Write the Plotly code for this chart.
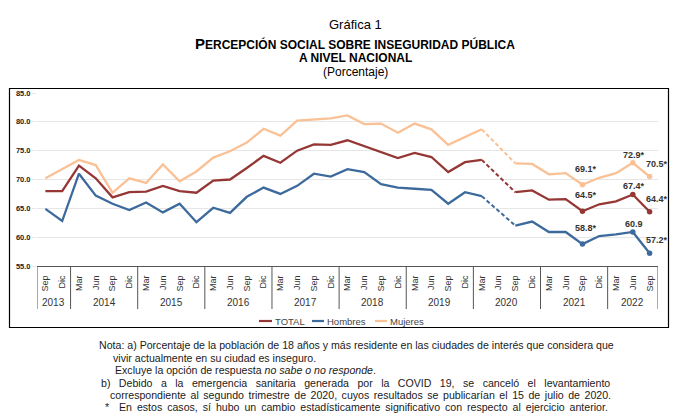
import plotly.graph_objects as go

# ---------------- data ----------------
months = ["Sep", "Dic",
          "Mar", "Jun", "Sep", "Dic",
          "Mar", "Jun", "Sep", "Dic",
          "Mar", "Jun", "Sep", "Dic",
          "Mar", "Jun", "Sep", "Dic",
          "Mar", "Jun", "Sep", "Dic",
          "Mar", "Jun", "Sep", "Dic",
          "Mar", "Jun", "Sep", "Dic",
          "Mar", "Jun", "Sep", "Dic",
          "Mar", "Jun", "Sep"]
years = ["2013", "2014", "2015", "2016", "2017", "2018", "2019", "2020", "2021", "2022"]
year_counts = [2, 4, 4, 4, 4, 4, 4, 4, 4, 3]

total = [68.0, 68.0, 72.4, 70.2, 66.9, 67.8, 67.9, 68.9, 68.0, 67.7, 69.8, 70.0,
         72.0, 74.1, 72.9, 75.0, 76.1, 76.0, 76.8, 75.8, 74.8, 73.7, 74.6, 73.9,
         71.3, 73.0, 73.4, None, 67.8, 68.1, 66.5, 66.6, 64.5, 65.7, 66.2, 67.4, 64.4]
hombres = [64.9, 62.8, 71.0, 67.2, 65.8, 64.7, 66.0, 64.3, 65.8, 62.6, 65.1, 64.2,
           67.0, 68.6, 67.5, 68.9, 71.0, 70.5, 71.8, 71.3, 69.2, 68.6, 68.4, 68.2,
           65.8, 67.8, 67.1, None, 62.0, 62.7, 60.9, 60.9, 58.8, 60.2, 60.5, 60.9, 57.2]
mujeres = [70.2, 71.8, 73.4, 72.5, 67.7, 70.2, 69.4, 72.6, 69.7, 71.4, 73.8, 74.9,
           76.4, 78.8, 77.6, 80.2, 80.4, 80.6, 81.1, 79.6, 79.7, 78.1, 79.7, 78.7,
           76.0, 77.4, 78.7, None, 72.8, 72.7, 70.9, 71.1, 69.1, 70.3, 71.1, 72.9, 70.5]

series_names = ["TOTAL", "Hombres", "Mujeres"]
label_idx = [32, 35, 36]
significant = {"TOTAL": [True, True, True],
               "Hombres": [True, False, True],
               "Mujeres": [True, True, True]}

# ---------------- layout constants ----------------
W_FIG, H_FIG = 681, 418
L, R, T, B = 37, 23, 93, 152
PW = W_FIG - L - R
PH = H_FIG - T - B
BOTTOM = H_FIG - B


def px(x):
    return (x - L) / PW


def py(y):
    return (BOTTOM - y) / PH


colors = {"TOTAL": "#953735", "Hombres": "#3D6A9C", "Mujeres": "#F9C195"}
data = {"TOTAL": total, "Hombres": hombres, "Mujeres": mujeres}
xs = list(range(len(months)))
gap = 27  # Jun 2020 not surveyed

fig = go.Figure()
for name in series_names:
    vals = data[name]
    c = colors[name]
    fig.add_trace(go.Scatter(x=xs, y=vals, mode="lines", connectgaps=False,
                             line=dict(color=c, width=2.3), showlegend=False,
                             hoverinfo="skip"))
    fig.add_trace(go.Scatter(x=[gap - 1, gap + 1], y=[vals[gap - 1], vals[gap + 1]],
                             mode="lines", line=dict(color=c, width=2.0, dash="4px,2.5px"),
                             showlegend=False, hoverinfo="skip"))
    fig.add_trace(go.Scatter(x=label_idx, y=[vals[i] for i in label_idx], mode="markers",
                             marker=dict(color=c, size=5.5), showlegend=False,
                             hoverinfo="skip"))

annotations = []
shifts = {32: (4, 16), 35: (1, 8), 36: (7, 13)}
for name in series_names:
    vals = data[name]
    for k, i in enumerate(label_idx):
        txt = f"{vals[i]:.1f}" + ("*" if significant[name][k] else "")
        dx, dy = shifts[i]
        annotations.append(dict(x=i, y=vals[i], xref="x", yref="y", text=txt,
                                showarrow=False, xshift=dx, yshift=dy,
                                font=dict(family="Liberation Sans", size=9,
                                          color="#333333", weight="bold")))

# year labels
start = 0
for yr, n in zip(years, year_counts):
    annotations.append(dict(x=start + (n - 1) / 2, y=py(302), xref="x", yref="paper",
                            text=yr, showarrow=False, yanchor="middle",
                            font=dict(family="Liberation Sans Narrow, Liberation Sans",
                                      size=10, color="#333333")))
    start += n

shapes = []
# year separators
bounds = [-0.5]
acc = 0
for n in year_counts:
    acc += n
    bounds.append(acc - 0.5)
for bx in bounds:
    shapes.append(dict(type="line", xref="x", yref="paper", x0=bx, x1=bx,
                       y0=py(309), y1=0, line=dict(color="#555555", width=1)))

# outer frame
shapes.append(dict(type="rect", xref="paper", yref="paper", x0=px(9.5), x1=px(668.5),
                   y0=py(327.5), y1=py(88.5), line=dict(color="#000000", width=1.2)))

# legend (manual)
leg_items = [("TOTAL", 259, 272, 273), ("Hombres", 312, 324, 325), ("Mujeres", 375, 387, 388)]
for name, x0, x1, xt in leg_items:
    shapes.append(dict(type="line", xref="paper", yref="paper", x0=px(x0), x1=px(x1),
                       y0=py(321), y1=py(321), line=dict(color=colors[name], width=2.2)))
    annotations.append(dict(x=px(xt), y=py(321), xref="paper", yref="paper", text=name,
                            showarrow=False, xanchor="left", yanchor="middle",
                            font=dict(family="Liberation Sans", size=9.5, color="#444444")))

# titles
title_font = "Liberation Sans"
annotations += [
    dict(x=px(355), y=py(15), xref="paper", yref="paper", text="Gráfica 1", showarrow=False,
         font=dict(family=title_font, size=13, color="#000000")),
    dict(x=px(355), y=py(33), xref="paper", yref="paper",
         text="<b><span style='font-size:15px'>P</span>ERCEPCIÓN SOCIAL SOBRE INSEGURIDAD PÚBLICA</b>",
         showarrow=False, font=dict(family=title_font, size=12, color="#000000")),
    dict(x=px(355), y=py(49), xref="paper", yref="paper", text="<b>A NIVEL NACIONAL</b>",
         showarrow=False, font=dict(family=title_font, size=12, color="#000000")),
    dict(x=px(355), y=py(63), xref="paper", yref="paper", text="(Porcentaje)",
         showarrow=False, font=dict(family=title_font, size=12, color="#000000")),
]

# notes
note_font = dict(family="Liberation Sans", size=10.6, color="#1a1a1a")
notes = [
    (97, 345, "Nota: a) Porcentaje de la población de 18 años y más residente en las ciudades de interés que considera que"),
    (111, 358, "vivir actualmente en su ciudad es inseguro."),
    (113, 370, "Excluye la opción de respuesta <i>no sabe o no responde</i>."),
    (99, 383, "<span style='word-spacing:5.5px'>b) Debido a la emergencia sanitaria generada por la COVID 19, se canceló el levantamiento</span>"),
    (108, 395, "<span style='word-spacing:1.6px'>correspondiente al segundo trimestre de 2020, cuyos resultados se publicarían el 15 de julio de 2020.</span>"),
    (103, 407, "<span style='word-spacing:2px'>*  En estos casos, sí hubo un cambio estadísticamente significativo con respecto al ejercicio anterior.</span>"),
]
for xx, yy, t in notes:
    annotations.append(dict(x=px(xx), y=py(yy), xref="paper", yref="paper", text=t,
                            showarrow=False, xanchor="left", yanchor="middle", font=note_font))

fig.update_layout(
    width=W_FIG, height=H_FIG,
    margin=dict(l=L, r=R, t=T, b=B, autoexpand=False),
    paper_bgcolor="white", plot_bgcolor="white",
    annotations=annotations, shapes=shapes, showlegend=False,
    xaxis=dict(range=[-0.5, len(months) - 0.5], tickmode="array", tickvals=xs,
               ticktext=months, tickangle=-90, showgrid=False, zeroline=False,
               showline=True, linecolor="#555555", linewidth=1, ticks="",
               ticklabelstandoff=5,
               tickfont=dict(family="Liberation Sans Narrow, Liberation Sans", size=9,
                             color="#333333")),
    yaxis=dict(range=[55, 85], dtick=5, tick0=55, tickformat=".1f", showgrid=True,
               gridcolor="#E6E6E6", gridwidth=1.3, zeroline=False, showline=False,
               ticks="outside", ticklen=4, tickcolor="#E6E6E6",
               tickfont=dict(family="Liberation Sans", size=7.5, color="#222222",
                             weight="bold")),
)

fig.write_html("out.html",
               config={"displayModeBar": False},
               post_script="document.body.style.margin='0';document.body.style.overflow='hidden';")
